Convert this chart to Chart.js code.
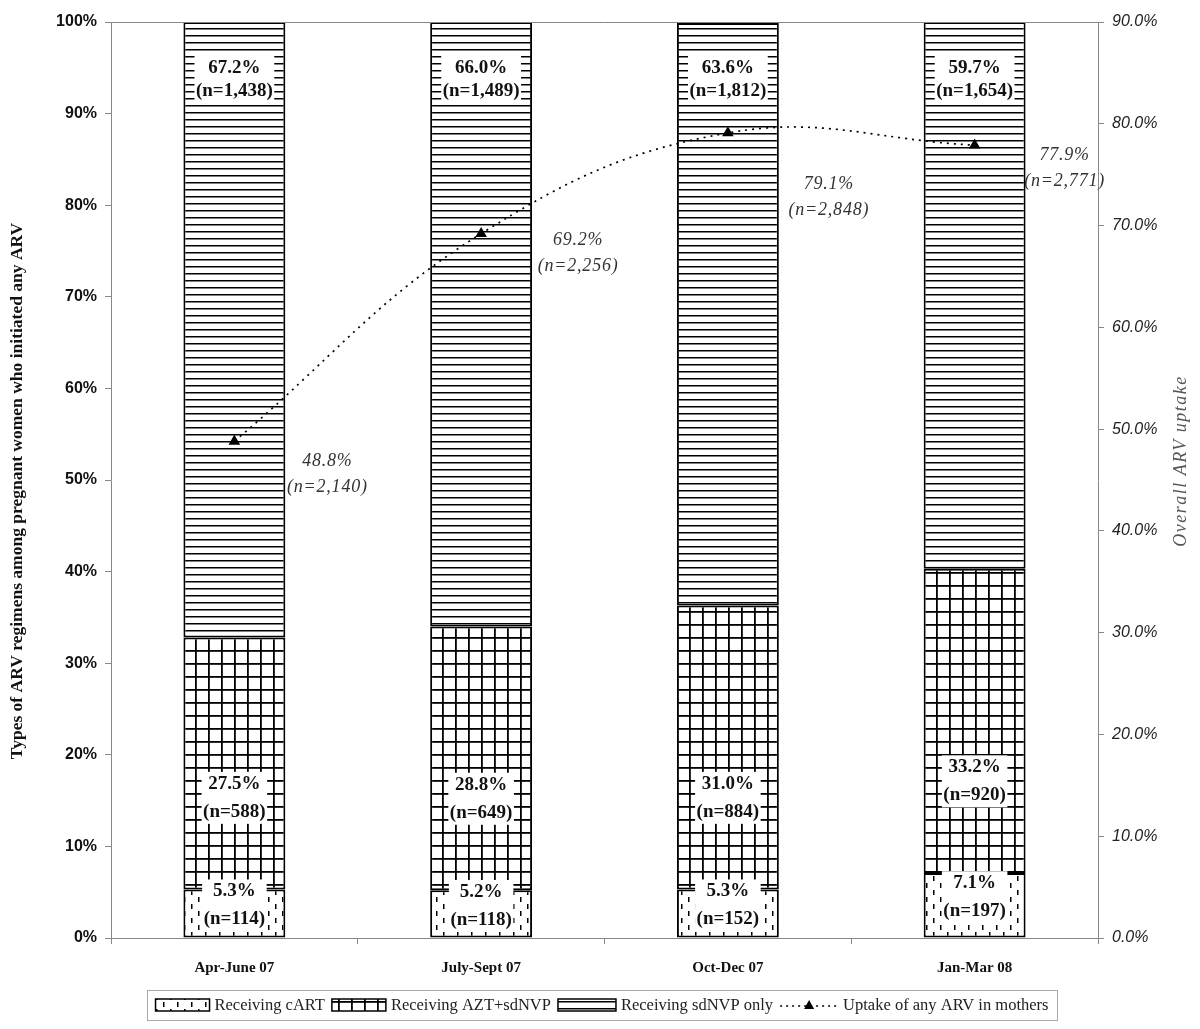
<!DOCTYPE html>
<html>
<head>
<meta charset="utf-8">
<script src="https://cdn.jsdelivr.net/npm/chart.js@4.4.1/dist/chart.umd.min.js"></script>
<style>
  html, body { margin: 0; padding: 0; background: #fff; }
  canvas { display: block; }
</style>
</head>
<body>
<canvas id="arvChart" width="1200" height="1029"></canvas>
<script>
// --- Data ---
const categories = ['Apr-June 07', 'July-Sept 07', 'Oct-Dec 07', 'Jan-Mar 08'];
const cartPct = [5.3, 5.2, 5.3, 7.1];
const cartN = [114, 118, 152, 197];
const aztPct = [27.5, 28.8, 31.0, 33.2];
const aztN = [588, 649, 884, 920];
const sdnvpPct = [67.2, 66.0, 63.6, 59.7];
const sdnvpN = [1438, 1489, 1812, 1654];
const uptakePct = [48.8, 69.2, 79.1, 77.9];
const uptakeN = [2140, 2256, 2848, 2771];

const seriesNames = ['Receiving cART', 'Receiving AZT+sdNVP', 'Receiving sdNVP only', 'Uptake of any ARV in mothers'];

// label offsets for the uptake annotations (px from the marker)
const uptakeLabelOffsets = [[93, 20], [97, 7], [101, 51], [90, 10]];

// --- Fill patterns (hatching like the original print figure) ---
function makePattern(w, h, draw) {
  const c = document.createElement('canvas');
  c.width = w; c.height = h;
  const g = c.getContext('2d');
  g.fillStyle = '#fff';
  g.fillRect(0, 0, w, h);
  g.fillStyle = '#000';
  draw(g);
  return g.createPattern(c, 'repeat');
}
const ctx = document.getElementById('arvChart').getContext('2d');
const hLines = makePattern(7, 7, g => g.fillRect(0, 0, 7, 1.5));
const gridFill = makePattern(13, 13, g => { g.fillRect(0, 0, 13, 1.8); g.fillRect(0, 0, 1.8, 13); });
const dashFill = makePattern(14, 14, g => {
  g.fillRect(2, 1, 1.5, 5);
  g.fillRect(9, 8, 1.5, 5);
});

const fmtN = n => n.toLocaleString('en-US');

// --- Text annotations, titles, top frame line and legend ---
function boxedPair(c, l1, l2, x, y1, y2) {
  const w = Math.max(c.measureText(l1).width, c.measureText(l2).width) + 3;
  c.fillStyle = '#fff';
  c.fillRect(x - w / 2, y1 - 12, w, y2 - y1 + 24);
  c.fillStyle = '#111';
  c.fillText(l1, x, y1);
  c.fillText(l2, x, y2);
}

const annotations = {
  id: 'annotations',
  afterDatasetsDraw(chart) {
    const c = chart.ctx;
    const { left, right, top, bottom } = chart.chartArea;
    const xs = chart.scales.x, ys = chart.scales.y, y2 = chart.scales.y2;
    c.save();

    // top frame line
    c.strokeStyle = '#888';
    c.lineWidth = 1;
    c.beginPath();
    c.moveTo(left, top + 0.5);
    c.lineTo(right, top + 0.5);
    c.stroke();

    c.textAlign = 'center';
    c.textBaseline = 'middle';
    c.font = 'bold 19px "Liberation Serif"';
    categories.forEach((cat, i) => {
      const cx = xs.getPixelForValue(i);
      const yt = ys.getPixelForValue(100);
      boxedPair(c, sdnvpPct[i].toFixed(1) + '%', '(n=' + fmtN(sdnvpN[i]) + ')', cx, yt + 46, yt + 69);
      const ya = ys.getPixelForValue(cartPct[i] + 10);
      boxedPair(c, aztPct[i].toFixed(1) + '%', '(n=' + fmtN(aztN[i]) + ')', cx, ya - 14, ya + 14);
      const yc = ys.getPixelForValue(cartPct[i] / 2 + 0.9);
      boxedPair(c, cartPct[i].toFixed(1) + '%', '(n=' + fmtN(cartN[i]) + ')', cx, yc - 14, yc + 14);
    });

    // uptake labels
    c.font = 'italic 18px "Liberation Serif"';
    c.letterSpacing = '0.8px';
    c.fillStyle = '#333';
    uptakePct.forEach((v, i) => {
      const px = xs.getPixelForValue(i);
      const py = y2.getPixelForValue(v);
      const [dx, dy] = uptakeLabelOffsets[i];
      c.fillText(v.toFixed(1) + '%', px + dx, py + dy);
      c.fillText('(n=' + fmtN(uptakeN[i]) + ')', px + dx, py + dy + 26);
    });

    // right axis title (reads bottom to top)
    c.save();
    c.translate(1181, 461);
    c.rotate(-Math.PI / 2);
    c.font = 'italic 18px "Liberation Serif"';
    c.letterSpacing = '1.5px';
    c.fillStyle = '#555';
    c.fillText('Overall ARV uptake', 0, 0);
    c.restore();

    // left axis title
    c.save();
    c.translate(17, 491);
    c.rotate(-Math.PI / 2);
    c.font = 'bold 17.5px "Liberation Serif"';
    c.letterSpacing = '0px';
    c.fillStyle = '#111';
    c.fillText('Types of ARV regimens among pregnant women who initiated any ARV', 0, 0);
    c.restore();

    c.restore();
  },
  afterDraw(chart) {
    const c = chart.ctx;
    c.save();
    const boxL = 147, boxR = 1057, boxT = 990, boxB = 1020;
    c.strokeStyle = '#aaa';
    c.lineWidth = 1;
    c.strokeRect(boxL + 0.5, boxT + 0.5, boxR - boxL, boxB - boxT);

    c.font = '16.5px "Liberation Serif"';
    c.textBaseline = 'middle';
    const swW = [54, 54, 58, 58];
    const fills = [dashFill, gridFill, hLines, null];
    const gap = 5, itemGap = 7;
    let total = 0;
    seriesNames.forEach((s, i) => { total += swW[i] + gap + c.measureText(s).width; });
    total += itemGap * (seriesNames.length - 1);
    let x = (boxL + boxR) / 2 - total / 2;
    const cy = (boxT + boxB) / 2;
    seriesNames.forEach((s, i) => {
      if (fills[i]) {
        c.fillStyle = fills[i];
        c.fillRect(x, cy - 6, swW[i], 12);
        c.strokeStyle = '#000';
        c.lineWidth = 1.5;
        c.strokeRect(x, cy - 6, swW[i], 12);
      } else {
        c.strokeStyle = '#000';
        c.lineWidth = 1.5;
        c.setLineDash([2, 4]);
        c.beginPath();
        c.moveTo(x, cy + 1);
        c.lineTo(x + swW[i], cy + 1);
        c.stroke();
        c.setLineDash([]);
        c.fillStyle = '#000';
        const mx = x + swW[i] / 2;
        c.beginPath();
        c.moveTo(mx, cy - 5);
        c.lineTo(mx + 5, cy + 4);
        c.lineTo(mx - 5, cy + 4);
        c.closePath();
        c.fill();
      }
      x += swW[i] + gap;
      c.fillStyle = '#222';
      c.fillText(s, x, cy + 1);
      x += c.measureText(s).width + itemGap;
    });
    c.restore();
  }
};

// --- Chart ---
const barCommon = {
  type: 'bar',
  borderColor: '#000',
  borderWidth: 2,
  borderSkipped: false,
  categoryPercentage: 1,
  barPercentage: 0.413,
  yAxisID: 'y',
  order: 2
};

const arvChart = new Chart(ctx, {
  data: {
    labels: categories,
    datasets: [
      Object.assign({}, barCommon, { label: seriesNames[0], data: cartPct, backgroundColor: dashFill }),
      Object.assign({}, barCommon, { label: seriesNames[1], data: aztPct, backgroundColor: gridFill }),
      Object.assign({}, barCommon, { label: seriesNames[2], data: sdnvpPct, backgroundColor: hLines }),
      {
        type: 'line',
        label: seriesNames[3],
        data: uptakePct,
        yAxisID: 'y2',
        borderColor: '#000',
        borderWidth: 1.7,
        borderDash: [2, 5],
        tension: 0.4,
        pointStyle: 'triangle',
        pointRadius: 5,
        pointBackgroundColor: '#000',
        pointBorderColor: '#000',
        fill: false,
        order: 1
      }
    ]
  },
  options: {
    responsive: false,
    animation: false,
    devicePixelRatio: 1,
    layout: { padding: { top: 22, left: 0, right: 0, bottom: 0 } },
    plugins: {
      legend: { display: false },
      tooltip: { enabled: false }
    },
    scales: {
      x: {
        stacked: true,
        grid: { drawOnChartArea: false, offset: true, tickLength: 6, color: '#888' },
        border: { color: '#888', width: 1 },
        ticks: {
          color: '#111',
          padding: 15,
          font: { family: '"Liberation Serif"', size: 15, weight: 'bold' }
        },
        afterFit(scale) { scale.height = 91; }
      },
      y: {
        stacked: true,
        position: 'left',
        min: 0,
        max: 100,
        ticks: {
          stepSize: 10,
          color: '#111',
          padding: 8,
          font: { family: '"Liberation Sans"', size: 16, weight: 'bold' },
          callback: v => v + '%'
        },
        grid: { drawOnChartArea: false, tickLength: 6, color: '#888' },
        border: { color: '#888', width: 1 },
        afterFit(scale) { scale.width = 111; }
      },
      y2: {
        position: 'right',
        min: 0,
        max: 90,
        ticks: {
          stepSize: 10,
          color: '#222',
          padding: 8,
          font: { family: '"Liberation Sans"', size: 16, style: 'italic' },
          callback: v => v.toFixed(1) + '%'
        },
        grid: { drawOnChartArea: false, tickLength: 6, color: '#888' },
        border: { color: '#888', width: 1 },
        afterFit(scale) { scale.width = 102; }
      }
    }
  },
  plugins: [annotations]
});
</script>
</body>
</html>
